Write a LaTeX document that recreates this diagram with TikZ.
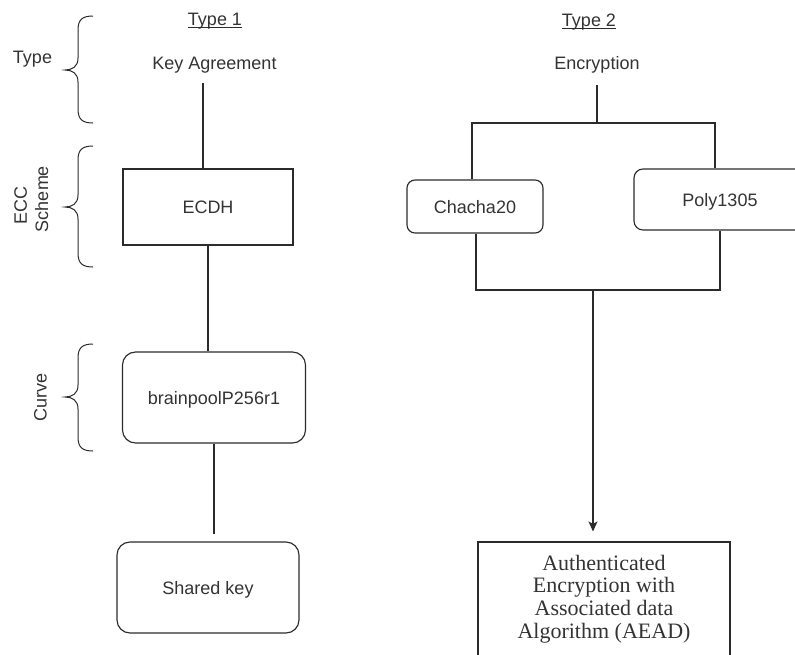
\documentclass[tikz,border=0pt]{standalone}
\usepackage{fontspec}
\setmainfont{Liberation Sans}
\newfontfamily\aeadfont{Liberation Serif}
\usetikzlibrary{arrows.meta}
\definecolor{ink}{HTML}{2B2B2B}
\definecolor{txt}{HTML}{333333}

% curly side bracket: top end, tip, bottom end (y values)
\newcommand\sidebrace[3]{%
  \draw[bracestyle] (93,#1) .. controls (82,#1) and (78,#1+4) .. (78,#1+14)
    -- (78,#2-12) .. controls (78,#2-3) and (72,#2) .. (65,#2)
    .. controls (72,#2) and (78,#2+3) .. (78,#2+12)
    -- (78,#3-14) .. controls (78,#3-4) and (82,#3) .. (93,#3);}

\begin{document}
\begin{tikzpicture}[x=1pt,y=-1pt,
  every node/.style={text=txt, font=\fontsize{18}{20.5}\selectfont},
  label/.style={inner sep=0pt, anchor=base},
  sidelabel/.style={inner sep=0pt, anchor=base, rotate=90},
  box/.style={draw=ink, line width=1.15pt, inner sep=0pt, text height=13pt, text depth=0pt},
  link/.style={draw=ink, line width=1.15pt},
  bracestyle/.style={draw=ink, line width=1pt},
  serif/.style={font=\aeadfont\fontsize{22}{22.7}\selectfont},
]
\useasboundingbox (0,0) rectangle (795,654);
\clip (0,0) rectangle (795,654);

% ---- side labels and brackets ----
\node[label] (lt) at (32.5,63) {Type};
\node[sidelabel] (lecc) at (27,205) {ECC};
\node[sidelabel] (lsch) at (48,199) {Scheme};
\node[sidelabel] (lcurve) at (46.5,397) {Curve};
\sidebrace{16}{70}{123}
\sidebrace{146}{207}{267}
\sidebrace{344}{397}{451}

% ---- Type 1: key agreement ----
\node[label] (t1) at (215,25) {Type 1};
\draw[ink, line width=0.9pt] ([yshift=-2.5pt]t1.base west) -- ([yshift=-2.5pt]t1.base east);
\node[label] (ka) at (214.5,69) {Key Agreement};
\node[box, minimum width=170pt, minimum height=76pt] (ecdh) at (208,207) {ECDH};
\node[box, rounded corners=13pt, minimum width=183pt, minimum height=91pt] (bp) at (214,397.5) {brainpoolP256r1};
\node[box, rounded corners=13pt, minimum width=182pt, minimum height=91pt] (sk) at (208,587.5) {Shared key};

\coordinate (kaend) at (203,83);
\draw[link] (kaend) -- (kaend |- ecdh.north);
\draw[link] (ecdh.south) -- (ecdh.south |- bp.north);
\coordinate (bpend) at (214,534);
\draw[link] (bp.south) -- (bpend);

% ---- Type 2: encryption ----
\node[label] (t2) at (589,26) {Type 2};
\draw[ink, line width=0.9pt] ([yshift=-2.5pt]t2.base west) -- ([yshift=-2.5pt]t2.base east);
\node[label] (enc) at (597,69) {Encryption};
\node[box, rounded corners=8pt, minimum width=136pt, minimum height=53pt] (cha) at (475,206.5) {Chacha20};
\node[box, rounded corners=9pt, minimum width=172pt, minimum height=61pt] (poly) at (720,199.5) {Poly1305};
\node[box, minimum width=252pt, minimum height=140pt] (aead) at (604,612) {};
\node[inner sep=0pt, align=center, serif] (aeadtxt) at (604,599)
  {Authenticated\\Encryption with\\Associated data\\Algorithm (AEAD)};

% split above the two ciphers
\coordinate (encend) at (597,85);
\coordinate (split) at (597,123);
\coordinate (sl) at (472,123);
\coordinate (sr) at (715,123);
\draw[link] (encend) -- (split);
\draw[link] (sl |- cha.north) -- (sl) -- (sr) -- (sr |- poly.north);

% join below the two ciphers
\coordinate (jl) at (476,290);
\coordinate (jr) at (720,290);
\coordinate (jm) at (593,290);
\draw[link] (jl |- cha.south) -- (jl) -- (jr) -- (jr |- poly.south);
\draw[link, -{Stealth[length=10pt, width=9pt, inset=2.5pt]}] (jm) -- ([yshift=10pt]jm |- aead.north);
\end{tikzpicture}
\end{document}
